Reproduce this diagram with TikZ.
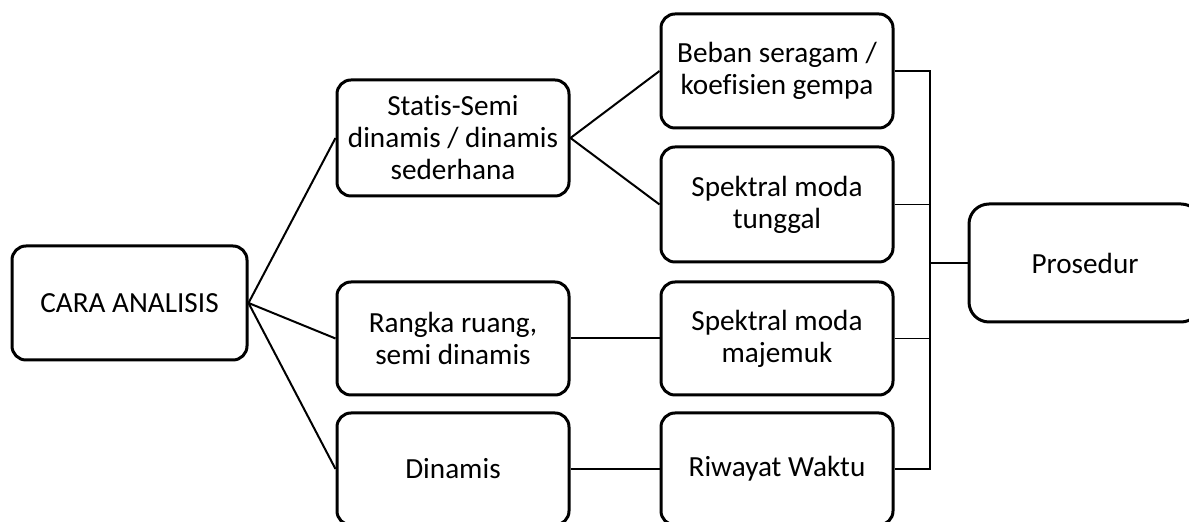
\documentclass[tikz,border=0pt]{standalone}
\usepackage{fontspec}
\setmainfont[Ligatures = NoCommon]{Carlito}
\usepackage{tikz}
\usetikzlibrary{positioning}
\tikzset{box/.style = {draw, rounded corners = 7, line width = 1.5pt, align = center, minimum width = 116pt, font = \fontsize{14.6}{16}\selectfont}}
\tikzset{fan/.style = {line width = 1pt}}
\tikzset{bus/.style = {line width = 0.8pt}}

\begin{document}
\begin{tikzpicture}[x = 0.5pt, y = -0.5pt]
    \useasboundingbox (0, 0) rectangle (1189, 522);

    \node (cara) at (129.5, 303) [box, minimum width = 117.5pt, minimum height = 57pt] {CARA ANALISIS};
    \node (statis) at (453, 138) [box, minimum height = 58pt] {Statis-Semi\\dinamis / dinamis\\sederhana};
    \node (rangka) at (453, 338.5) [box, minimum height = 56.5pt] {Rangka ruang,\\semi dinamis};
    \node (dinamis) at (453, 469) [box, minimum height = 56pt] {Dinamis};

    \node (beban) at (777, 71) [box, minimum height = 57pt] {Beban seragam /\\koefisien gempa};
    \node (tunggal) at (777, 204.5) [box, minimum height = 57.5pt] {Spektral moda\\tunggal};
    \node (majemuk) at (777, 338.5) [box, minimum height = 56.5pt] {Spektral moda\\majemuk};
    \node (riwayat) at (777, 469) [box, minimum height = 56pt] {Riwayat Waktu};

    \node (prosedur) at (1085, 263) [box, rounded corners = 10, minimum height = 59pt] {Prosedur};

    \draw [fan] (statis.west) -- (cara.east) -- (rangka.west);
    \draw [fan] (cara.east) -- (dinamis.west);
    \draw [fan] (beban.west) -- (statis.east) -- (tunggal.west);
    \draw [fan] (rangka.east) -- (majemuk.west);
    \draw [fan] (dinamis.east) -- (riwayat.west);

    % collecting line on the right
    \coordinate (bus) at (930, 0);
    \draw [bus] (beban.east) -- (beban.east -| bus) -- (riwayat.east -| bus) -- (riwayat.east);
    \draw [bus] (tunggal.east) -- (tunggal.east -| bus);
    \draw [bus] (majemuk.east) -- (majemuk.east -| bus);
    \draw [bus] (prosedur.west) -- (prosedur.west -| bus);
  \end{tikzpicture}
\end{document}
